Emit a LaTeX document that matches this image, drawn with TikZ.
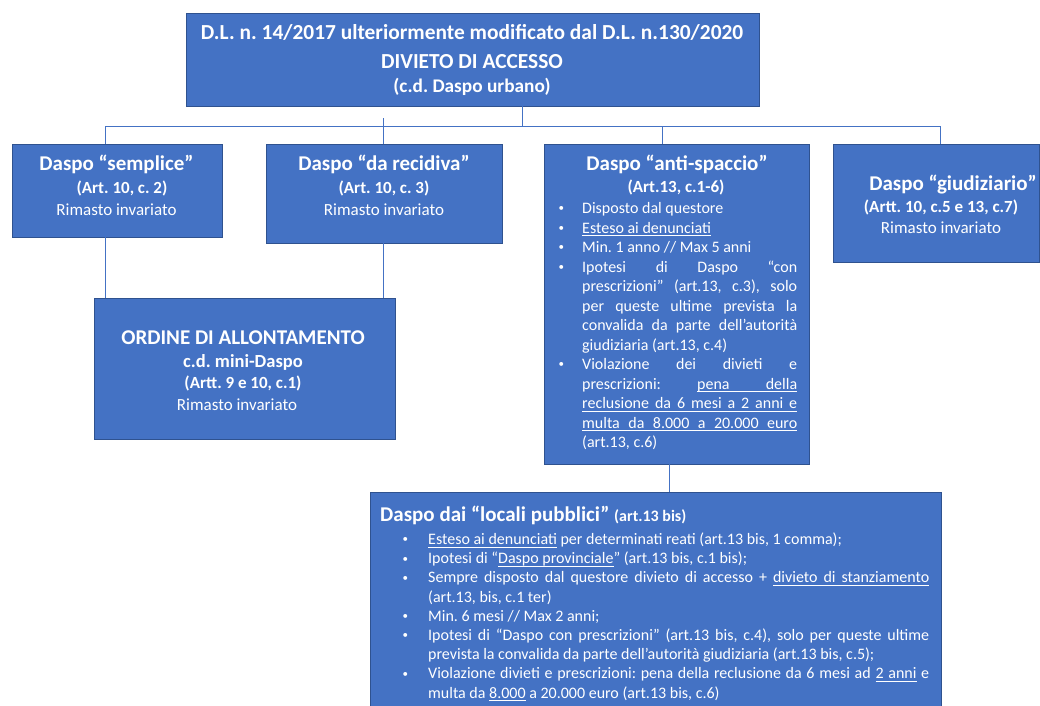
\documentclass[tikz,border=0pt]{standalone}
\usepackage{fontspec}
\setmainfont{Carlito}
\frenchspacing
\definecolor{boxblue}{HTML}{4472C4}
\definecolor{boxedge}{HTML}{2F528F}
\definecolor{linkblue}{HTML}{4472C4}
\newcommand\bitem[1][25pt]{\par\noindent\llap{\makebox[#1][l]{\hspace{1.5pt}\raisebox{1.6pt}{\fontsize{11}{11}\selectfont•}}}\ignorespaces}
% own underline: words + stretchable underlined spaces
\newcommand\ULw[1]{\setbox0\hbox{#1}\rlap{\rule[-3.0pt]{\wd0}{0.8pt}}\box0\relax}
\newcommand\ULs{\leaders\hrule height -2.2pt depth 3.0pt\hskip\fontdimen2\font plus\fontdimen3\font minus\fontdimen4\font\relax}
\def\ULp#1{\ULpi#1 \ULend}
\def\ULpi#1 #2\ULend{\ULw{#1}\ifx\relax#2\relax\else\ULs\ULpi#2\ULend\fi}
\begin{document}
\begin{tikzpicture}[x=1pt,y=-1pt,
  dbox/.style={draw=boxedge, fill=boxblue, line width=0.8pt, inner sep=0pt, outer sep=0pt, anchor=north west},
  conn/.style={draw=linkblue, line width=1pt},
  txt/.style={text=white, inner sep=0pt, anchor=base},
  ttl/.style={txt, font=\fontsize{21.4}{25}\selectfont\bfseries},
  hd/.style={txt, font=\fontsize{21}{25}\selectfont\bfseries},
  sb/.style={txt, font=\fontsize{17}{20}\selectfont\bfseries},
  rm/.style={txt, font=\fontsize{17}{20}\selectfont},
  ]
\useasboundingbox (0,0) rectangle (1040,705);
% boxes
\node[dbox, minimum width=573pt, minimum height=93pt] (top) at (186,13) {};
\node[dbox, minimum width=210pt, minimum height=93pt] (b1) at (12,144) {};
\node[dbox, minimum width=236pt, minimum height=99pt] (b2) at (266,144) {};
\node[dbox, minimum width=265pt, minimum height=320pt] (b3) at (544,144) {};
\node[dbox, minimum width=206pt, minimum height=118pt] (b4) at (833,144) {};
\node[dbox, minimum width=301pt, minimum height=141pt] (ord) at (94,298) {};
\node[dbox, minimum width=571pt, minimum height=220pt] (b5) at (370,492) {};
% junctions
\coordinate (jt) at (522,126);
\coordinate (j1) at (105,126);
\coordinate (j2) at (383,126);
\coordinate (j2up) at (383,118);
\coordinate (j3) at (662,126);
\coordinate (j4) at (940,126);
\coordinate (j5) at (669,300);
% connectors
\draw[conn] (jt |- top.south) -- (jt);
\draw[conn] (j1) -- (j4);
\draw[conn] (j1) -- (j1 |- b1.north);
\draw[conn] (j2up) -- (j2 |- b2.north);
\draw[conn] (j3) -- (j3 |- b3.north);
\draw[conn] (j4) -- (j4 |- b4.north);
\draw[conn] (j1 |- b1.south) -- (j1 |- ord.north);
\draw[conn] (j2 |- b2.south) -- (j2 |- ord.north);
\draw[conn] (j5 |- b3.south) -- (j5 |- b5.north);
% top texts
\node[ttl] (t1) at (472,39.5) {D.L. n. 14/2017 ulteriormente modificato dal D.L. n.130/2020};
\node[ttl] (t2) at (472,68.5) {DIVIETO DI ACCESSO};
\node[ttl, font=\fontsize{19.3}{23}\selectfont\bfseries] (t3) at (472,92.5) {(c.d. Daspo urbano)};
% box 1
\node[hd] (b1h) at (116.5,170) {Daspo “semplice”};
\node[sb] (b1s) at (122,193.5) {(Art. 10, c. 2)};
\node[rm] (b1r) at (116.5,215) {Rimasto invariato};
% box 2
\node[hd] (b2h) at (384,170) {Daspo “da recidiva”};
\node[sb] (b2s) at (384,193.5) {(Art. 10, c. 3)};
\node[rm] (b2r) at (384,215) {Rimasto invariato};
% box 3
\node[hd] (b3h) at (677,170) {Daspo “anti-spaccio”};
\node[sb] (b3s) at (676,192.5) {(Art.13, c.1-6)};
\node[txt, anchor=base west] (b3l) at (557,213.5) {\begin{minipage}[t]{240pt}\fontsize{16}{19.5}\selectfont
\leftskip=25pt \parindent=0pt \parskip=0pt \tolerance=10000 \hbadness=10000
\bitem Disposto dal questore
\bitem \ULp{Esteso ai denunciati}
\bitem Min. 1 anno // Max 5 anni
\bitem Ipotesi di Daspo “con\linebreak prescrizioni” (art.13, c.3), solo\linebreak per queste ultime prevista la\linebreak convalida da parte dell’autorità\linebreak giudiziaria (art.13, c.4)
\bitem Violazione dei divieti e\linebreak prescrizioni: \ULp{pena della}\linebreak \ULp{reclusione da 6 mesi a 2 anni e}\linebreak \ULp{multa da 8.000 a 20.000 euro}\linebreak (art.13, c.6)\par
\end{minipage}};
% box 4
\node[hd] (b4h) at (953,190) {Daspo “giudiziario”};
\node[sb] (b4s) at (941,212.5) {(Artt. 10, c.5 e 13, c.7)};
\node[rm] (b4r) at (941,233) {Rimasto invariato};
% ordine
\node[hd] (oh) at (243,344) {ORDINE DI ALLONTAMENTO};
\node[txt, font=\fontsize{18.5}{22}\selectfont\bfseries] (os) at (243,367.5) {c.d. mini-Daspo};
\node[sb] (oa) at (243,388.5) {(Artt. 9 e 10, c.1)};
\node[rm] (orr) at (237,410) {Rimasto invariato};
% box 5
\node[hd, anchor=base west] (b5h) at (380,521) {Daspo dai “locali pubblici” {\fontsize{16}{19}\selectfont(art.13 bis)}};
\node[txt, anchor=base west] (b5l) at (401,544.5) {\begin{minipage}[t]{528pt}\fontsize{16}{19.2}\selectfont
\leftskip=27pt \parindent=0pt \parskip=0pt \tolerance=10000 \hbadness=10000
\bitem[27pt] \ULp{Esteso ai denunciati} per determinati reati (art.13 bis, 1 comma);
\bitem[27pt] Ipotesi di “\ULp{Daspo provinciale}” (art.13 bis, c.1 bis);
\bitem[27pt] Sempre disposto dal questore divieto di accesso + \ULp{divieto di stanziamento}\linebreak (art.13, bis, c.1 ter)
\bitem[27pt] Min. 6 mesi // Max 2 anni;
\bitem[27pt] Ipotesi di “Daspo con prescrizioni” (art.13 bis, c.4), solo per queste ultime\linebreak prevista la convalida da parte dell’autorità giudiziaria (art.13 bis, c.5);
\bitem[27pt] Violazione divieti e prescrizioni: pena della reclusione da 6 mesi ad \ULp{2 anni} e\linebreak multa da \ULp{8.000} a 20.000 euro (art.13 bis, c.6)\par
\end{minipage}};
\end{tikzpicture}
\end{document}
